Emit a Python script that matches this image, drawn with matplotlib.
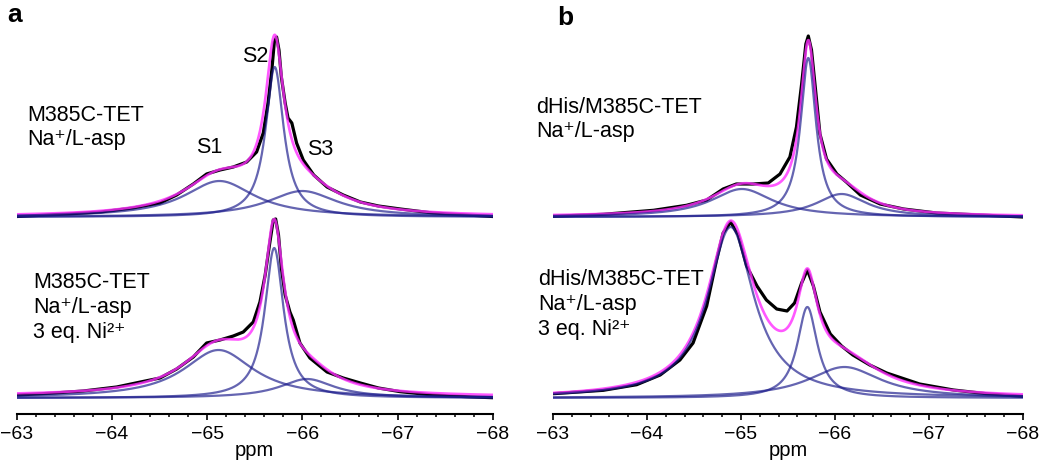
import numpy as np
import matplotlib
matplotlib.use('Agg')
import matplotlib.pyplot as plt
from matplotlib.ticker import MultipleLocator

plt.rcParams['font.family'] = ['Liberation Sans', 'DejaVu Sans']

# ---------------- data ----------------
x_ticks = [-63, -64, -65, -66, -67, -68]

# Panel a, top spectrum (M385C-TET, Na+/L-asp): fitted components S1, S2, S3
a_top_centers = [-65.13, -65.71, -66.00]
a_top_heights = [36, 150, 26]
a_top_hwhm = [0.45, 0.115, 0.45]
a_top_fit_baseline = [0.3, 0.3]          # fit baseline at -63 and -68 ppm
a_top_ppm = [-63.0, -63.53, -63.88, -64.22, -64.505, -64.68, -64.855, -64.995, -65.135,
             -65.275, -65.416, -65.52, -65.59, -65.64, -65.68, -65.706, -65.73, -65.755,
             -65.78, -65.82, -65.85, -65.89, -65.94, -66.01, -66.12, -66.26, -66.43,
             -66.61, -66.80, -67.03, -67.37, -67.73, -68.0]
a_top_int = [0.5, 3, 5, 9, 14, 22, 33, 43, 47, 50, 55, 65, 84, 114, 147, 175, 180, 167,
             140, 114, 99, 94, 74, 57, 42, 30, 22, 15, 11, 8, 4, 2, 0.5]

# Panel a, bottom spectrum (+ 3 eq. Ni2+)
a_bot_centers = [-65.12, -65.705, -66.05]
a_bot_heights = [48, 150, 19]
a_bot_hwhm = [0.45, 0.12, 0.35]
a_bot_fit_baseline = [2.0, 1.0]
a_bot_ppm = [-63.0, -63.35, -63.70, -64.05, -64.30, -64.505, -64.68, -64.855, -64.995,
             -65.135, -65.275, -65.38, -65.485, -65.555, -65.61, -65.655, -65.695, -65.72,
             -65.75, -65.78, -65.82, -65.87, -65.905, -65.975, -66.08, -66.26, -66.43,
             -66.61, -66.80, -67.03, -67.37, -67.73, -68.0]
a_bot_int = [3, 4.7, 7, 11, 16, 20, 29, 41, 55, 58, 62, 66, 76, 96, 123, 153, 178, 179,
             163, 130, 103, 86, 78, 55, 40, 26, 20, 15, 10, 6.3, 3, 1.3, 0.3]

# Panel b, top spectrum (dHis/M385C-TET, Na+/L-asp)
b_top_centers = [-65.01, -65.716, -66.07]
b_top_heights = [28, 159, 23]
b_top_hwhm = [0.40, 0.10, 0.33]
b_top_fit_baseline = [0.5, 0.3]
b_top_ppm = [-63.0, -63.535, -64.07, -64.42, -64.635, -64.81, -64.95, -65.13, -65.29,
             -65.415, -65.52, -65.59, -65.645, -65.69, -65.716, -65.75, -65.79, -65.84,
             -65.91, -66.02, -66.12, -66.27, -66.48, -66.73, -67.08, -67.61, -68.0]
b_top_int = [0.7, 2.7, 6.7, 11.7, 17, 28, 33, 33, 34, 43, 60, 90, 133, 173, 181, 167,
             130, 83, 58, 43, 35, 22, 13, 8, 4, 1.7, 0]

# Panel b, bottom spectrum (+ 3 eq. Ni2+)
b_bot_centers = [-64.89, -65.706, -66.10]
b_bot_heights = [171, 91, 31]
b_bot_hwhm = [0.30, 0.13, 0.47]
b_bot_fit_baseline = [0.0, 0.0]
b_bot_ppm = [-63.0, -63.535, -63.89, -64.14, -64.35, -64.49, -64.635, -64.74, -64.81,
             -64.89, -64.97, -65.06, -65.17, -65.27, -65.38, -65.49, -65.57, -65.645,
             -65.706, -65.77, -65.84, -65.95, -66.07, -66.19, -66.37, -66.55, -66.90,
             -67.26, -67.61, -68.0]
b_bot_int = [4.3, 7.7, 13.3, 23, 38, 55, 92, 138, 165, 176, 163, 132, 112, 98, 89, 87,
             95, 115, 128, 112, 86, 64, 52, 43, 33, 25, 14, 8, 4.3, 1.7]

# ---------------- drawing ----------------
W, H = 1050, 468
fig = plt.figure(figsize=(W / 100, H / 100), dpi=100)

TOP_OFFSET = 181
BLACK = '#000000'
MAGENTA = '#ff2eff'
BLUE = '#1c1c8c'

grid = np.linspace(-63, -68, 2001)


def lorentz(x, c, h, g):
    return h / (1.0 + ((x - c) / g) ** 2)


def draw_spectrum(ax, ppm, inten, centers, heights, hwhm, base, offset):
    ax.plot(ppm, np.asarray(inten) + offset, color=BLACK, lw=2.3, zorder=2,
            solid_joinstyle='round')
    comps = [lorentz(grid, c, h, g) for c, h, g in zip(centers, heights, hwhm)]
    bl = np.interp(grid, [-68, -63], [base[1], base[0]])
    ax.plot(grid, np.sum(comps, axis=0) + bl + offset, color=MAGENTA, lw=1.9,
            alpha=0.8, zorder=3)
    for comp in comps:
        ax.plot(grid, comp + offset, color=BLUE, lw=1.6, alpha=0.68, zorder=4)


def make_axes(left_px, right_px):
    ax = fig.add_axes([left_px / W, 1 - 413.5 / H, (right_px - left_px) / W, 413.5 / H])
    ax.set_xlim(-63, -68)
    ax.set_ylim(-15.5, 398)
    for s in ['top', 'left', 'right']:
        ax.spines[s].set_visible(False)
    ax.spines['bottom'].set_linewidth(1.5)
    ax.set_yticks([])
    ax.set_xticks(x_ticks)
    ax.set_xticklabels([f'\u2212{abs(t)}' for t in x_ticks])
    ax.xaxis.set_minor_locator(MultipleLocator(0.2))
    ax.tick_params(axis='x', which='major', direction='out', length=4.5, width=1.2,
                   labelsize=14, pad=4.5)
    ax.tick_params(axis='x', which='minor', direction='out', length=2.5, width=1.1)
    ax.set_xlabel('ppm', fontsize=14.5, labelpad=-1.5)
    ax.patch.set_alpha(0)
    return ax


ax_a = make_axes(16.7, 492.7)
draw_spectrum(ax_a, a_top_ppm, a_top_int, a_top_centers, a_top_heights, a_top_hwhm,
              a_top_fit_baseline, TOP_OFFSET)
draw_spectrum(ax_a, a_bot_ppm, a_bot_int, a_bot_centers, a_bot_heights, a_bot_hwhm,
              a_bot_fit_baseline, 0)

ax_b = make_axes(553, 1023)
draw_spectrum(ax_b, b_top_ppm, b_top_int, b_top_centers, b_top_heights, b_top_hwhm,
              b_top_fit_baseline, TOP_OFFSET)
draw_spectrum(ax_b, b_bot_ppm, b_bot_int, b_bot_centers, b_bot_heights, b_bot_hwhm,
              b_bot_fit_baseline, 0)


def ftext(xp, yp, s, **kw):
    kw.setdefault('fontsize', 15.5)
    fig.text(xp / W, 1 - yp / H, s, va='baseline', **kw)


# panel letters
ftext(7, 22, 'a', fontsize=19, fontweight='bold')
ftext(557, 25, 'b', fontsize=19, fontweight='bold')

# panel a labels
ftext(27, 121, 'M385C-TET')
ftext(27, 145, 'Na\u207a/L-asp')
ftext(209, 153, 'S1', ha='center')
ftext(255, 62, 'S2', ha='center')
ftext(320, 155, 'S3', ha='center')
ftext(33, 288, 'M385C-TET')
ftext(33, 313, 'Na\u207a/L-asp')
ftext(33, 338, '3 eq. Ni\u00b2\u207a')

# panel b labels
ftext(536, 113, 'dHis/M385C-TET')
ftext(536, 137, 'Na\u207a/L-asp')
ftext(538, 285, 'dHis/M385C-TET')
ftext(538, 310, 'Na\u207a/L-asp')
ftext(538, 335, '3 eq. Ni\u00b2\u207a')

fig.savefig('out.png', dpi=100)
